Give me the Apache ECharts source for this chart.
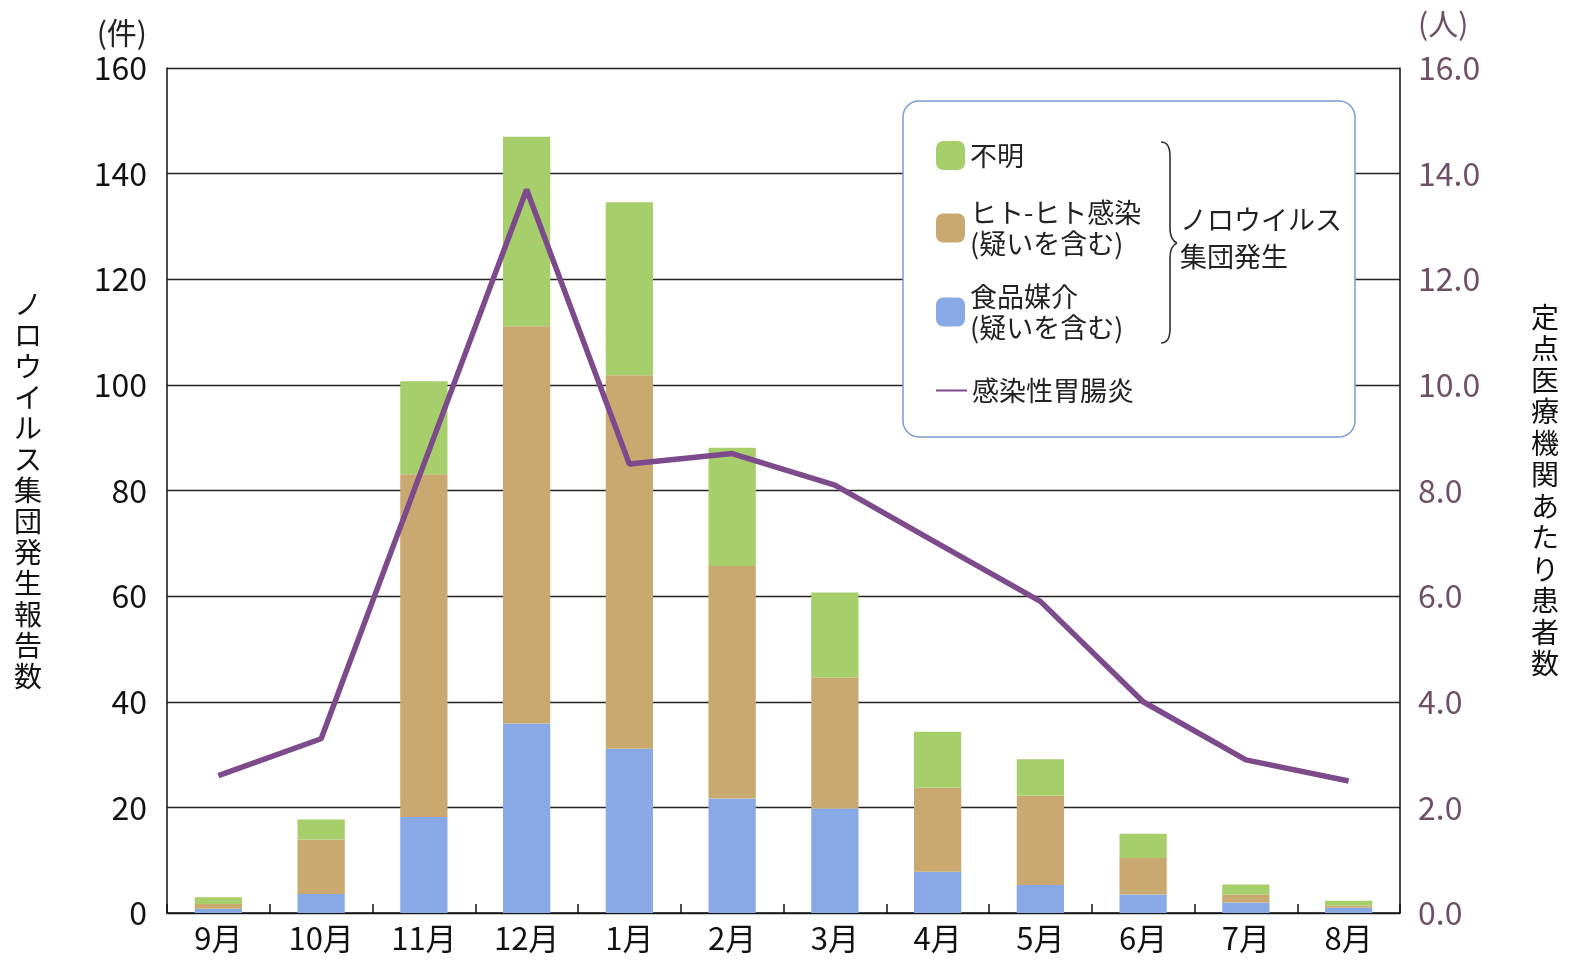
<!DOCTYPE html>
<html>
<head>
<meta charset="utf-8">
<title>ノロウイルス集団発生と感染性胃腸炎</title>
<script src="https://cdn.jsdelivr.net/npm/echarts@6/dist/echarts.min.js"></script>
<style>
  html, body { margin: 0; padding: 0; background: #fff; }
  #chart { width: 1574px; height: 964px; }
</style>
</head>
<body>
<div id="chart"></div>
<script>
// 月別データ
const months = ['9月', '10月', '11月', '12月', '1月', '2月', '3月', '4月', '5月', '6月', '7月', '8月']
const foodBorne = [0.8, 3.6, 18.2, 35.9, 31.1, 21.7, 19.8, 7.8, 5.3, 3.5, 2.0, 1.0]
const personToPerson = [0.9, 10.3, 64.9, 75.2, 70.7, 44.0, 24.8, 15.9, 16.9, 6.9, 1.5, 0.4]
const unknownRoute = [1.3, 3.8, 17.6, 35.9, 32.8, 22.4, 16.1, 10.6, 6.9, 4.6, 1.9, 0.9]
const gastroPerSite = [2.6, 3.3, 8.5, 13.7, 8.5, 8.7, 8.1, 7.0, 5.9, 4.0, 2.9, 2.5]

const cjk = '"Noto Sans CJK JP", sans-serif'

const colors = {
  food: '#89a9e6',
  person: '#c9a96f',
  unknown: '#a6ce6b',
  line: '#7d4a8b'
}

const legendLabels = {
  '不明': '不明',
  'ヒト-ヒト感染': 'ヒト-ヒト感染\n(疑いを含む)',
  '食品媒介': '食品媒介\n(疑いを含む)',
  '感染性胃腸炎': '感染性胃腸炎'
}

const legendCommon = {
  orient: 'vertical',
  left: 936,
  itemWidth: 29,
  itemHeight: 29,
  padding: 0,
  z: 10,
  selectedMode: false,
  formatter: name => legendLabels[name],
  textStyle: { fontFamily: cjk, fontSize: 27, lineHeight: 31, color: '#222' }
}

// 中括弧 "}"
const braceStyle = { stroke: '#333', lineWidth: 1.6, fill: 'none' }
const bracePieces = [
  { type: 'bezierCurve', shape: { x1: 1161, y1: 142, cpx1: 1170, cpy1: 142, x2: 1170, y2: 156 } },
  { type: 'line', shape: { x1: 1170, y1: 156, x2: 1170, y2: 228 } },
  { type: 'bezierCurve', shape: { x1: 1170, y1: 228, cpx1: 1170, cpy1: 240, x2: 1177, y2: 243 } },
  { type: 'bezierCurve', shape: { x1: 1177, y1: 243, cpx1: 1170, cpy1: 246, x2: 1170, y2: 258 } },
  { type: 'line', shape: { x1: 1170, y1: 258, x2: 1170, y2: 329 } },
  { type: 'bezierCurve', shape: { x1: 1170, y1: 329, cpx1: 1170, cpy1: 343, x2: 1161, y2: 343 } }
].map(p => Object.assign(p, { z: 10, style: braceStyle }))

const chart = echarts.init(document.getElementById('chart'))

chart.setOption({
  backgroundColor: '#fff',
  animation: false,
  grid: { left: 167, right: 174, top: 68, bottom: 51 },
  legend: [
    Object.assign({}, legendCommon, { top: 140, data: ['不明'] }),
    Object.assign({}, legendCommon, { top: 197, data: ['ヒト-ヒト感染'] }),
    Object.assign({}, legendCommon, { top: 281, data: ['食品媒介'] }),
    Object.assign({}, legendCommon, {
      top: 375, icon: 'rect', itemWidth: 31, itemHeight: 2, data: ['感染性胃腸炎']
    })
  ],
  xAxis: {
    type: 'category',
    data: months,
    boundaryGap: true,
    axisLine: { lineStyle: { color: '#111', width: 1.5 } },
    axisTick: { show: true, inside: true, length: 9, lineStyle: { color: '#111', width: 1.5 } },
    axisLabel: { fontFamily: cjk, fontSize: 31, color: '#111', margin: 10 }
  },
  yAxis: [{
    type: 'value',
    min: 0,
    max: 160,
    interval: 20,
    name: 'ノロウイルス集団発生報告数'.split('').join('\n'),
    nameLocation: 'middle',
    nameRotate: 0,
    nameGap: 125,
    nameTextStyle: { fontFamily: cjk, fontSize: 28, lineHeight: 31, color: '#111' },
    axisLine: { show: true, lineStyle: { color: '#111', width: 1.5 } },
    axisTick: { show: false },
    axisLabel: { fontFamily: cjk, fontSize: 32, color: '#111', margin: 20 },
    splitLine: { lineStyle: { color: '#222', width: 1.3 } }
  }, {
    type: 'value',
    min: 0,
    max: 16,
    interval: 2,
    name: '定点医療機関あたり患者数'.split('').join('\n'),
    nameLocation: 'middle',
    nameRotate: 0,
    nameGap: 131,
    nameTextStyle: { fontFamily: cjk, fontSize: 28, lineHeight: 31.5, color: '#111' },
    axisLine: { show: true, lineStyle: { color: '#111', width: 1.5 } },
    axisTick: { show: false },
    axisLabel: {
      fontFamily: cjk, fontSize: 32, color: '#6e4f66', margin: 18,
      formatter: v => v.toFixed(1)
    },
    splitLine: { show: false }
  }],
  series: [{
    name: '食品媒介',
    type: 'bar',
    stack: 'outbreak',
    barWidth: '46%',
    itemStyle: { color: colors.food },
    data: foodBorne
  }, {
    name: 'ヒト-ヒト感染',
    type: 'bar',
    stack: 'outbreak',
    itemStyle: { color: colors.person },
    data: personToPerson
  }, {
    name: '不明',
    type: 'bar',
    stack: 'outbreak',
    itemStyle: { color: colors.unknown },
    data: unknownRoute
  }, {
    name: '感染性胃腸炎',
    type: 'line',
    yAxisIndex: 1,
    symbol: 'none',
    z: 5,
    lineStyle: { color: colors.line, width: 5.5 },
    itemStyle: { color: colors.line },
    data: gastroPerSite
  }],
  graphic: [
    {
      type: 'rect', z: 3,
      shape: { x: 903, y: 101, width: 452, height: 336, r: 16 },
      style: { fill: '#fff', stroke: '#7c9bd0', lineWidth: 1.5 }
    }
  ].concat(bracePieces, [
    {
      type: 'text', z: 10, x: 1180, y: 220,
      style: { text: 'ノロウイルス', font: '27px ' + cjk, fill: '#222', verticalAlign: 'middle' }
    },
    {
      type: 'text', z: 10, x: 1180, y: 257,
      style: { text: '集団発生', font: '27px ' + cjk, fill: '#222', verticalAlign: 'middle' }
    },
    {
      type: 'text', z: 10, x: 147, y: 33,
      style: { text: '(件)', font: '30px ' + cjk, fill: '#222', align: 'right', verticalAlign: 'middle' }
    },
    {
      type: 'text', z: 10, x: 1418, y: 24,
      style: { text: '(人)', font: '30px ' + cjk, fill: '#6e4f66', align: 'left', verticalAlign: 'middle' }
    }
  ])
})
</script>
</body>
</html>
